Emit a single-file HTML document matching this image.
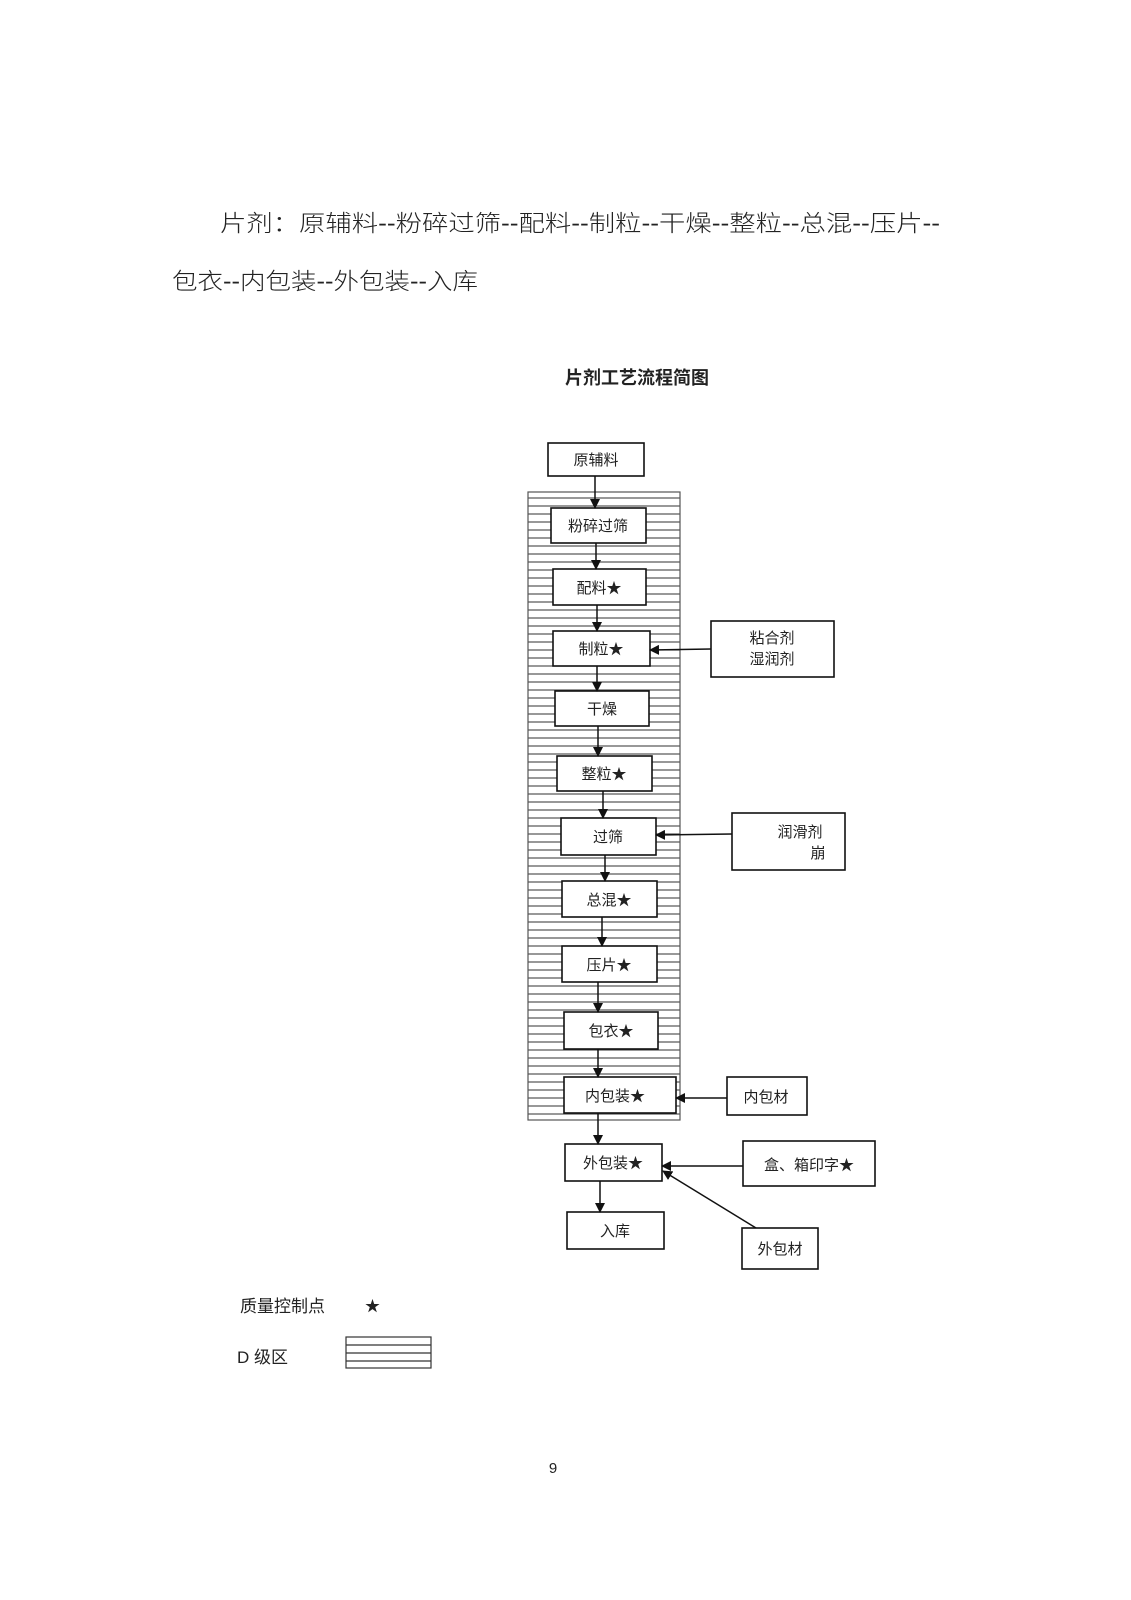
<!DOCTYPE html>
<html><head><meta charset="utf-8"><style>
html,body{margin:0;padding:0;background:#fff;}
svg{display:block;}
text{font-family:"Liberation Sans","Noto Sans CJK SC",sans-serif;fill:#222;}
</style></head><body>
<svg width="1131" height="1600" viewBox="0 0 1131 1600" xmlns="http://www.w3.org/2000/svg">
<defs>
<pattern id="h" x="0" y="494" width="10" height="8" patternUnits="userSpaceOnUse">
<line x1="0" y1="4" x2="10" y2="4" stroke="#444" stroke-width="1.1"/>
</pattern>
<marker id="a" markerWidth="10" markerHeight="10" refX="9" refY="5" orient="auto" markerUnits="userSpaceOnUse">
<path d="M0,0 L10,5 L0,10 z" fill="#111"/>
</marker>
</defs>
<text x="220" y="231" font-size="23" textLength="720" lengthAdjust="spacingAndGlyphs" font-family="'Noto Sans CJK SC',sans-serif" font-weight="300">片剂：原辅料--粉碎过筛--配料--制粒--干燥--整粒--总混--压片--</text>
<text x="172" y="289" font-size="23" textLength="306" lengthAdjust="spacingAndGlyphs" font-weight="300">包衣--内包装--外包装--入库</text>
<text x="637" y="384" font-size="18" font-weight="bold" text-anchor="middle">片剂工艺流程简图</text>

<rect x="528" y="492" width="152" height="628" fill="url(#h)" stroke="#555" stroke-width="1.2"/>

<g stroke="#111" stroke-width="1.6" fill="#fff">
<rect x="548" y="443" width="96" height="33"/>
<rect x="551" y="508" width="95" height="35"/>
<rect x="553" y="569" width="93" height="36"/>
<rect x="553" y="631" width="97" height="35"/>
<rect x="555" y="691" width="94" height="35"/>
<rect x="557" y="756" width="95" height="35"/>
<rect x="561" y="818" width="95" height="37"/>
<rect x="562" y="881" width="95" height="36"/>
<rect x="562" y="946" width="95" height="36"/>
<rect x="564" y="1012" width="94" height="37"/>
<rect x="564" y="1077" width="112" height="36"/>
<rect x="565" y="1144" width="97" height="37"/>
<rect x="567" y="1212" width="97" height="37"/>
<rect x="711" y="621" width="123" height="56"/>
<rect x="732" y="813" width="113" height="57"/>
<rect x="727" y="1077" width="80" height="38"/>
<rect x="743" y="1141" width="132" height="45"/>
<rect x="742" y="1228" width="76" height="41"/>
</g>

<g stroke="#111" stroke-width="1.5" marker-end="url(#a)">
<line x1="595" y1="476" x2="595" y2="508"/>
<line x1="596" y1="543" x2="596" y2="569"/>
<line x1="597" y1="605" x2="597" y2="631"/>
<line x1="597" y1="666" x2="597" y2="691"/>
<line x1="598" y1="726" x2="598" y2="756"/>
<line x1="603" y1="791" x2="603" y2="818"/>
<line x1="605" y1="855" x2="605" y2="881"/>
<line x1="602" y1="917" x2="602" y2="946"/>
<line x1="598" y1="982" x2="598" y2="1012"/>
<line x1="598" y1="1049" x2="598" y2="1077"/>
<line x1="598" y1="1113" x2="598" y2="1144"/>
<line x1="600" y1="1181" x2="600" y2="1212"/>
<line x1="711" y1="649" x2="650" y2="650"/>
<line x1="732" y1="834" x2="656" y2="835"/>
<line x1="727" y1="1098" x2="676" y2="1098"/>
<line x1="743" y1="1166" x2="662" y2="1166"/>
<line x1="756" y1="1228" x2="663" y2="1171"/>
</g>

<g font-size="15" text-anchor="middle">
<text x="596" y="465">原辅料</text>
<text x="598" y="531">粉碎过筛</text>
<text x="599" y="593">配料★</text>
<text x="601" y="654">制粒★</text>
<text x="602" y="714">干燥</text>
<text x="604" y="779">整粒★</text>
<text x="608" y="842">过筛</text>
<text x="609" y="905">总混★</text>
<text x="609" y="970">压片★</text>
<text x="611" y="1036">包衣★</text>
<text x="615" y="1101">内包装★</text>
<text x="613" y="1168">外包装★</text>
<text x="615" y="1236">入库</text>
<text x="772" y="643">粘合剂</text>
<text x="772" y="664">湿润剂</text>
<text x="800" y="837">润滑剂</text>
<text x="818" y="858">崩</text>
<text x="766" y="1102">内包材</text>
<text x="809" y="1170">盒、箱印字★</text>
<text x="780" y="1254">外包材</text>
</g>

<text x="240" y="1312" font-size="17">质量控制点</text>
<text x="365" y="1311" font-size="15">★</text>
<text x="237" y="1363" font-size="17">D 级区</text>
<g stroke="#333" stroke-width="1.2" fill="none">
<rect x="346" y="1337" width="85" height="31"/>
<line x1="346" y1="1345" x2="431" y2="1345"/>
<line x1="346" y1="1353" x2="431" y2="1353"/>
<line x1="346" y1="1361" x2="431" y2="1361"/>
</g>
<text x="553" y="1473" font-size="15" text-anchor="middle">9</text>
</svg>
</body></html>
